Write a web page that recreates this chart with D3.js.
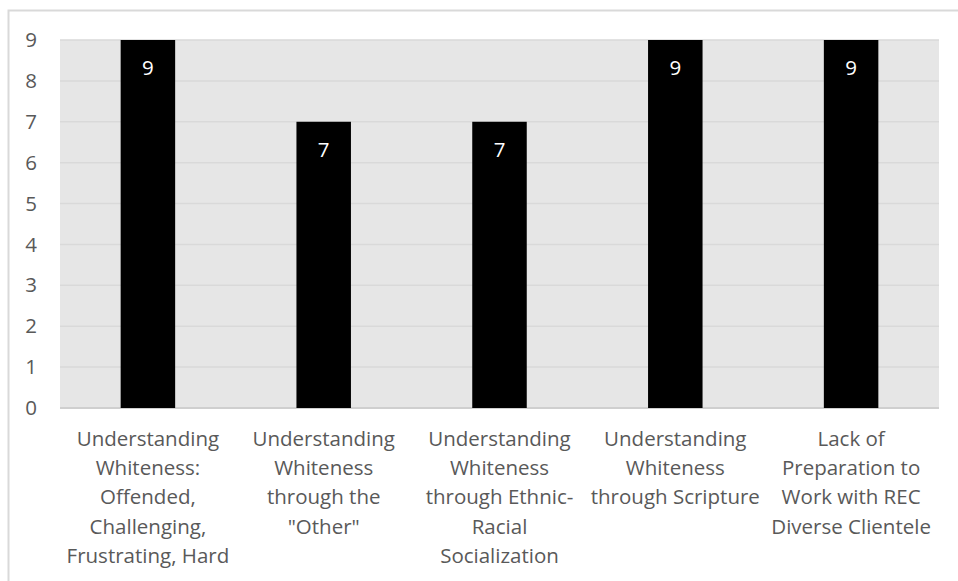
<!DOCTYPE html>
<html><head><meta charset="utf-8">
<script src="https://cdn.jsdelivr.net/npm/d3@7"></script>
<style>body{margin:0;background:#fff;} svg{display:block;}</style>
</head><body>
<svg id="chart" width="958" height="581"></svg>
<script>
const categories = [
  ["Understanding","Whiteness:","Offended,","Challenging,","Frustrating, Hard"],
  ["Understanding","Whiteness","through the","\"Other\""],
  ["Understanding","Whiteness","through Ethnic-","Racial","Socialization"],
  ["Understanding","Whiteness","through Scripture"],
  ["Lack of","Preparation to","Work with REC","Diverse Clientele"]
];
const values = [9, 7, 7, 9, 9];
const yTicks = [0,1,2,3,4,5,6,7,8,9];

const svg = d3.select("#chart");
const font = "'Open Sans', sans-serif";
const fs = 20.5;
const margin = {left: 60, right: 19, top: 40, bottom: 173};
const W = 958, H = 581;
const iw = W - margin.left - margin.right, ih = H - margin.top - margin.bottom;

// outer frame
svg.append("rect").attr("x", 8.5).attr("y", 10.5).attr("width", 1000).attr("height", 1000)
  .attr("fill", "none").attr("stroke", "#d9d9d9").attr("stroke-width", 2);

const g = svg.append("g").attr("transform", `translate(${margin.left},${margin.top})`);
const x = d3.scaleBand().domain(d3.range(values.length)).range([0, iw]).paddingInner(0.69).paddingOuter(0.345);
const y = d3.scaleLinear().domain([0, 9]).range([ih, 0]);

g.append("rect").attr("width", iw).attr("height", ih).attr("fill", "#e6e6e6");

g.append("g").selectAll("line").data(yTicks).join("line")
  .attr("x1", 0).attr("x2", iw).attr("y1", d => y(d)).attr("y2", d => y(d))
  .attr("stroke", d => d === 0 ? "#cfcfcf" : "#d9d9d9").attr("stroke-width", d => d === 0 ? 2 : 1.5);

const yAxis = g.append("g").call(d3.axisLeft(y).tickValues(yTicks).tickSize(0).tickPadding(23));
yAxis.select(".domain").remove();
yAxis.selectAll("text").attr("font-family", font).attr("font-size", fs).attr("fill", "#595959");

g.append("g").selectAll("rect").data(values).join("rect")
  .attr("x", (d, i) => x(i)).attr("width", x.bandwidth())
  .attr("y", d => y(d)).attr("height", d => y(0) - y(d)).attr("fill", "#000");

g.append("g").selectAll("text").data(values).join("text")
  .attr("x", (d, i) => x(i) + x.bandwidth() / 2).attr("y", d => y(d) + 35)
  .attr("text-anchor", "middle").attr("font-family", font).attr("font-size", fs).attr("fill", "#fff")
  .text(d => d);

const labels = g.append("g").selectAll("text").data(categories).join("text")
  .attr("text-anchor", "middle").attr("font-family", font).attr("font-size", fs).attr("fill", "#595959")
  .attr("transform", (d, i) => `translate(${x(i) + x.bandwidth() / 2},${ih + 38})`);
labels.selectAll("tspan").data(d => d).join("tspan")
  .attr("x", 0).attr("dy", (d, i) => i === 0 ? 0 : 29.2).text(d => d);
</script>
</body></html>
